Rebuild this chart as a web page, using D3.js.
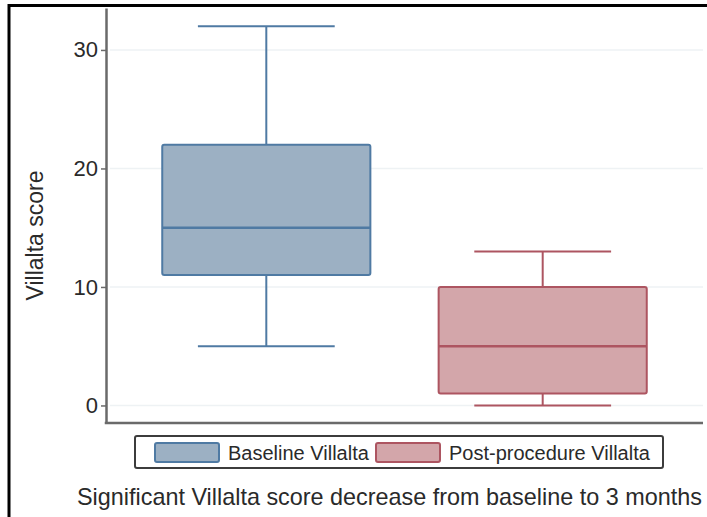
<!DOCTYPE html>
<html>
<head>
<meta charset="utf-8">
<script src="https://cdn.jsdelivr.net/npm/d3@7"></script>
<style>
  body { margin: 0; background: #fff; }
  svg text { font-family: "Liberation Sans", Arial, Helvetica, sans-serif; fill: #2a2a2a; }
</style>
</head>
<body>
<div id="chart"></div>
<script>
// box plot data
var groups = ["Baseline Villalta", "Post-procedure Villalta"];
var lowerWhisker = [5, 0];
var q1 = [11, 1];
var median = [15, 5];
var q3 = [22, 10];
var upperWhisker = [32, 13];
var yTicks = [0, 10, 20, 30];
var fills = ["#9cb0c3", "#d3a6aa"];
var strokes = ["#4f7aa3", "#ad5561"];
var xTitle = "Significant Villalta score decrease from baseline to 3 months";
var yTitle = "Villalta score";

var width = 707, height = 517;

var svg = d3.select("#chart").append("svg")
	.attr("width", width)
	.attr("height", height);

// frame on the left and top
svg.append("line").attr("x1", 9).attr("x2", 9).attr("y1", 4).attr("y2", height)
	.attr("stroke", "#000").attr("stroke-width", 3);
svg.append("line").attr("x1", 8).attr("x2", width).attr("y1", 5.5).attr("y2", 5.5)
	.attr("stroke", "#000").attr("stroke-width", 3);

var plotLeft = 106, plotRight = 703, plotTop = 8, plotBottom = 423;

var y = d3.scaleLinear().domain([-1.48, 33.54]).range([plotBottom, plotTop]);
var x = d3.scalePoint().domain(groups).range([plotLeft, plotRight]).padding(0.58);
var step = x.step();
var boxW = step * 0.753, capW = step * 0.495;

// faint grid
svg.selectAll(".grid").data(yTicks).enter().append("line")
	.attr("class", "grid")
	.attr("x1", plotLeft + 4).attr("x2", plotRight)
	.attr("y1", d => y(d)).attr("y2", d => y(d))
	.attr("stroke", "#eef2f4").attr("stroke-width", 1.5);

var data = groups.map((g, i) => ({
	name: g, lo: lowerWhisker[i], q1: q1[i], med: median[i], q3: q3[i], hi: upperWhisker[i],
	fill: fills[i], stroke: strokes[i]
}));

var box = svg.selectAll(".box").data(data).enter().append("g").attr("class", "box");

// whiskers
box.append("line")
	.attr("x1", d => x(d.name)).attr("x2", d => x(d.name))
	.attr("y1", d => y(d.q3)).attr("y2", d => y(d.hi))
	.attr("stroke", d => d.stroke).attr("stroke-width", 2);
box.append("line")
	.attr("x1", d => x(d.name)).attr("x2", d => x(d.name))
	.attr("y1", d => y(d.q1)).attr("y2", d => y(d.lo))
	.attr("stroke", d => d.stroke).attr("stroke-width", 2);
box.append("line")
	.attr("x1", d => x(d.name) - capW / 2).attr("x2", d => x(d.name) + capW / 2)
	.attr("y1", d => y(d.hi)).attr("y2", d => y(d.hi))
	.attr("stroke", d => d.stroke).attr("stroke-width", 2);
box.append("line")
	.attr("x1", d => x(d.name) - capW / 2).attr("x2", d => x(d.name) + capW / 2)
	.attr("y1", d => y(d.lo)).attr("y2", d => y(d.lo))
	.attr("stroke", d => d.stroke).attr("stroke-width", 2);

// boxes
box.append("rect")
	.attr("x", d => x(d.name) - boxW / 2)
	.attr("width", boxW)
	.attr("y", d => y(d.q3))
	.attr("height", d => y(d.q1) - y(d.q3))
	.attr("rx", 2)
	.attr("fill", d => d.fill)
	.attr("stroke", d => d.stroke).attr("stroke-width", 2);
box.append("line")
	.attr("x1", d => x(d.name) - boxW / 2).attr("x2", d => x(d.name) + boxW / 2)
	.attr("y1", d => y(d.med)).attr("y2", d => y(d.med))
	.attr("stroke", d => d.stroke).attr("stroke-width", 2.5);

// axes
var yAxis = svg.append("g")
	.attr("transform", "translate(" + plotLeft + ",0)")
	.call(d3.axisLeft(y).tickValues(yTicks).tickSize(5).tickSizeOuter(0).tickPadding(3));
yAxis.select(".domain").attr("stroke", "#6a6a6a").attr("stroke-width", 2.5);
yAxis.selectAll(".tick line").attr("stroke", "#6a6a6a").attr("stroke-width", 1.5);
yAxis.selectAll(".tick text").attr("font-size", 22).style("fill", "#2a2a2a")
	.attr("font-family", "Liberation Sans, Arial, sans-serif");

svg.append("line")
	.attr("x1", plotLeft - 1.25).attr("x2", plotRight)
	.attr("y1", plotBottom).attr("y2", plotBottom)
	.attr("stroke", "#6a6a6a").attr("stroke-width", 2.5);

// y title
svg.append("text")
	.attr("transform", "translate(43," + 235.5 + ") rotate(-90)")
	.attr("text-anchor", "middle")
	.attr("font-size", 23)
	.text(yTitle);

// legend
svg.append("rect")
	.attr("x", 135).attr("y", 436).attr("width", 528).attr("height", 32)
	.attr("rx", 2)
	.attr("fill", "#fff").attr("stroke", "#3c3c3c").attr("stroke-width", 2);
var legendX = [155, 376];
var leg = svg.selectAll(".leg").data(data).enter().append("g").attr("class", "leg")
	.attr("transform", (d, i) => "translate(" + legendX[i] + ",443)");
leg.append("rect")
	.attr("width", 64).attr("height", 19).attr("rx", 2)
	.attr("fill", d => d.fill).attr("stroke", d => d.stroke).attr("stroke-width", 2);
leg.append("text")
	.attr("x", 73).attr("y", 16.5)
	.attr("font-size", 20)
	.text(d => d.name);

// x title
svg.append("text")
	.attr("x", 77).attr("y", 505)
	.attr("font-size", 23.4)
	.text(xTitle);
</script>
</body>
</html>
